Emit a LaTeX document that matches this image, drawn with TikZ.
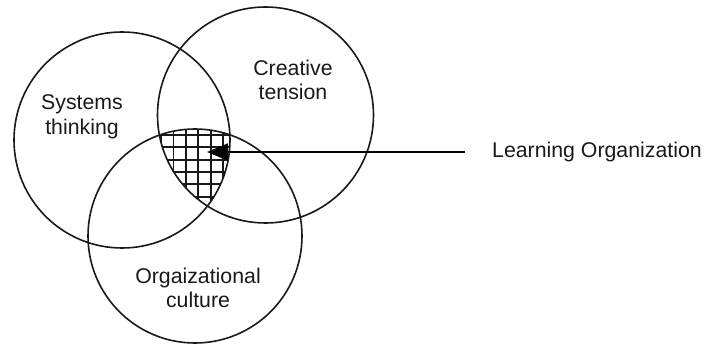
\documentclass[tikz,border=0pt]{standalone}
\usepackage{fontspec}
\setmainfont{Liberation Sans}
\usetikzlibrary{arrows.meta}
\begin{document}
\begin{tikzpicture}[x=1pt,y=1pt,
  venn/.style={draw=black!90, line width=1.6pt},
  lbl/.style={align=center, text=black!90, font=\fontsize{21.3}{24.5}\selectfont, inner sep=0pt},
  grid line/.style={line width=1.9pt, black!90}]
\useasboundingbox (0,0) rectangle (704,343);
% circle centres (y flipped from pixel coords)
\coordinate (cS) at (122,203);
\coordinate (cC) at (265.5,228);
\coordinate (cO) at (195,107);
% hatched intersection
\begin{scope}
  \clip (cS) circle (108);
  \clip (cC) circle (108);
  \clip (cO) circle (107);
  \foreach \i in {-3,...,12} {
    \draw[grid line] (161+12.45*\i, 0) -- (161+12.45*\i, 343);
    \draw[grid line] (0, 208-12.35*\i) -- (704, 208-12.35*\i);
  }
\end{scope}
\draw[venn] (cS) circle (108);
\draw[venn] (cC) circle (108);
\draw[venn] (cO) circle (107);
\node[lbl] (st) at (82,226) {Systems\\thinking};
\node[lbl] (ct) at (293,263) {Creative\\tension};
\node[lbl] (oc) at (198,55) {Orgaizational\\culture};
\node[lbl, anchor=west] (lo) at (492,191) {Learning Organization};
\coordinate (tail) at (465,191);
\coordinate (tip) at (207,191);
\draw[line width=1.6pt, -{Triangle[length=21pt,width=17pt]}] (tail) -- (tip);
\end{tikzpicture}
\end{document}
